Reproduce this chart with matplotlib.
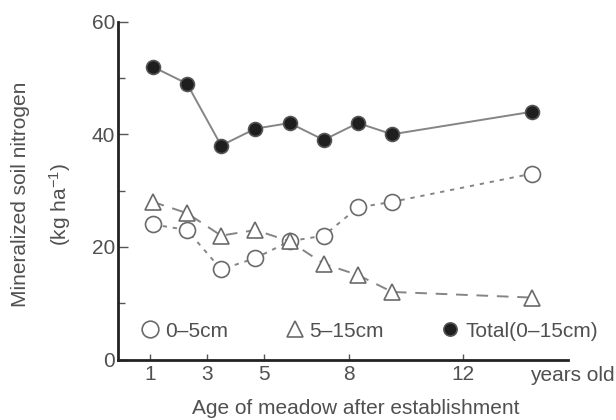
import matplotlib
matplotlib.use("Agg")
import matplotlib.pyplot as plt
from matplotlib.lines import Line2D

plt.rcParams['font.family'] = ['Liberation Sans', 'DejaVu Sans']
plt.rcParams['mathtext.fontset'] = 'custom'
plt.rcParams['mathtext.rm'] = 'Liberation Sans'
plt.rcParams['mathtext.it'] = 'Liberation Sans'
plt.rcParams['mathtext.default'] = 'regular'

age = [1.1, 2.3, 3.5, 4.7, 5.9, 7.1, 8.3, 9.5, 14.4]
n_0_5 = [24, 23, 16, 18, 21, 22, 27, 28, 33]
n_5_15 = [28, 26, 22, 23, 21, 17, 15, 12, 11]
n_total = [52, 49, 38, 41, 42, 39, 42, 40, 44]
xticks = [1, 3, 5, 8, 12]
yticks_major = [0, 20, 40, 60]
yticks_minor = [10, 30, 50]
labels = ['0\u20135cm', '5\u201315cm', 'Total(0\u201315cm)']

txt = '#505050'
line_c = '#858585'
FS = 15

fig = plt.figure(figsize=(6.16, 4.2), dpi=100)
ax = fig.add_axes([118 / 616, 1 - 359.5 / 420, 450 / 616, 337.8 / 420])

ax.plot(age, n_total, '-', color=line_c, lw=1.4, marker='o', ms=10,
        mfc='#1e1e1e', mec='#555555', mew=1.2, zorder=3)
ax.plot(age, n_0_5, linestyle=(0, (2.2, 3)), color=line_c, lw=1.4, marker='o', ms=11.5,
        mfc='white', mec='#6a6a6a', mew=1.2, zorder=3)
ax.plot(age, n_5_15, linestyle=(0, (6, 4.5)), color=line_c, lw=1.4, marker='^', ms=11.5,
        mfc='white', mec='#6a6a6a', mew=1.2, zorder=3)

ax.set_xlim(-0.12, 15.67)
ax.set_ylim(0, 60)
ax.spines['top'].set_visible(False)
ax.spines['right'].set_visible(False)
for s in ('left', 'bottom'):
    ax.spines[s].set_linewidth(2)
    ax.spines[s].set_color('#222222')

ax.set_xticks(xticks)
ax.set_xticklabels([str(t) for t in xticks])
ax.set_yticks(yticks_major)
ax.set_yticklabels([str(t) for t in yticks_major])
ax.set_yticks(yticks_minor, minor=True)
ax.tick_params(axis='both', which='both', direction='in', colors='#555555',
               labelcolor=txt, labelsize=FS)
ax.tick_params(axis='y', which='major', length=7, width=1, pad=2)
ax.tick_params(axis='y', which='minor', length=5, width=1)
ax.tick_params(axis='x', which='major', length=4, width=1, pad=4)

ax.text(0.916, -0.02, 'years old', transform=ax.transAxes, ha='left', va='top',
        fontsize=FS, color=txt)

ax.set_xlabel('Age of meadow after establishment', fontsize=FS, color=txt)
ax.xaxis.set_label_coords(0.529, -0.118)

fig.text(21 / 616, 1 - 194 / 420, 'Mineralized soil nitrogen', rotation=90,
         ha='center', va='center', fontsize=FS, color=txt)
fig.text(60 / 616, 1 - 204 / 420, '(kg ha$^{-1}$)', rotation=90,
         ha='center', va='center', fontsize=FS, color=txt)

handles = [
    Line2D([], [], ls='none', marker='o', ms=12, mfc='white', mec='#6a6a6a', mew=1.2),
    Line2D([], [], ls='none', marker='^', ms=12, mfc='white', mec='#6a6a6a', mew=1.2),
    Line2D([], [], ls='none', marker='o', ms=9.5, mfc='#1e1e1e', mec='#555555', mew=1.2),
]
leg = ax.legend(handles, labels, ncol=3, frameon=False, loc='center left',
                bbox_to_anchor=(0.035, 0.084), handlelength=0.8, handletextpad=0.3,
                columnspacing=2.8, fontsize=FS, borderaxespad=0)
for t in leg.get_texts():
    t.set_color(txt)

fig.savefig('out.png', dpi=100)
